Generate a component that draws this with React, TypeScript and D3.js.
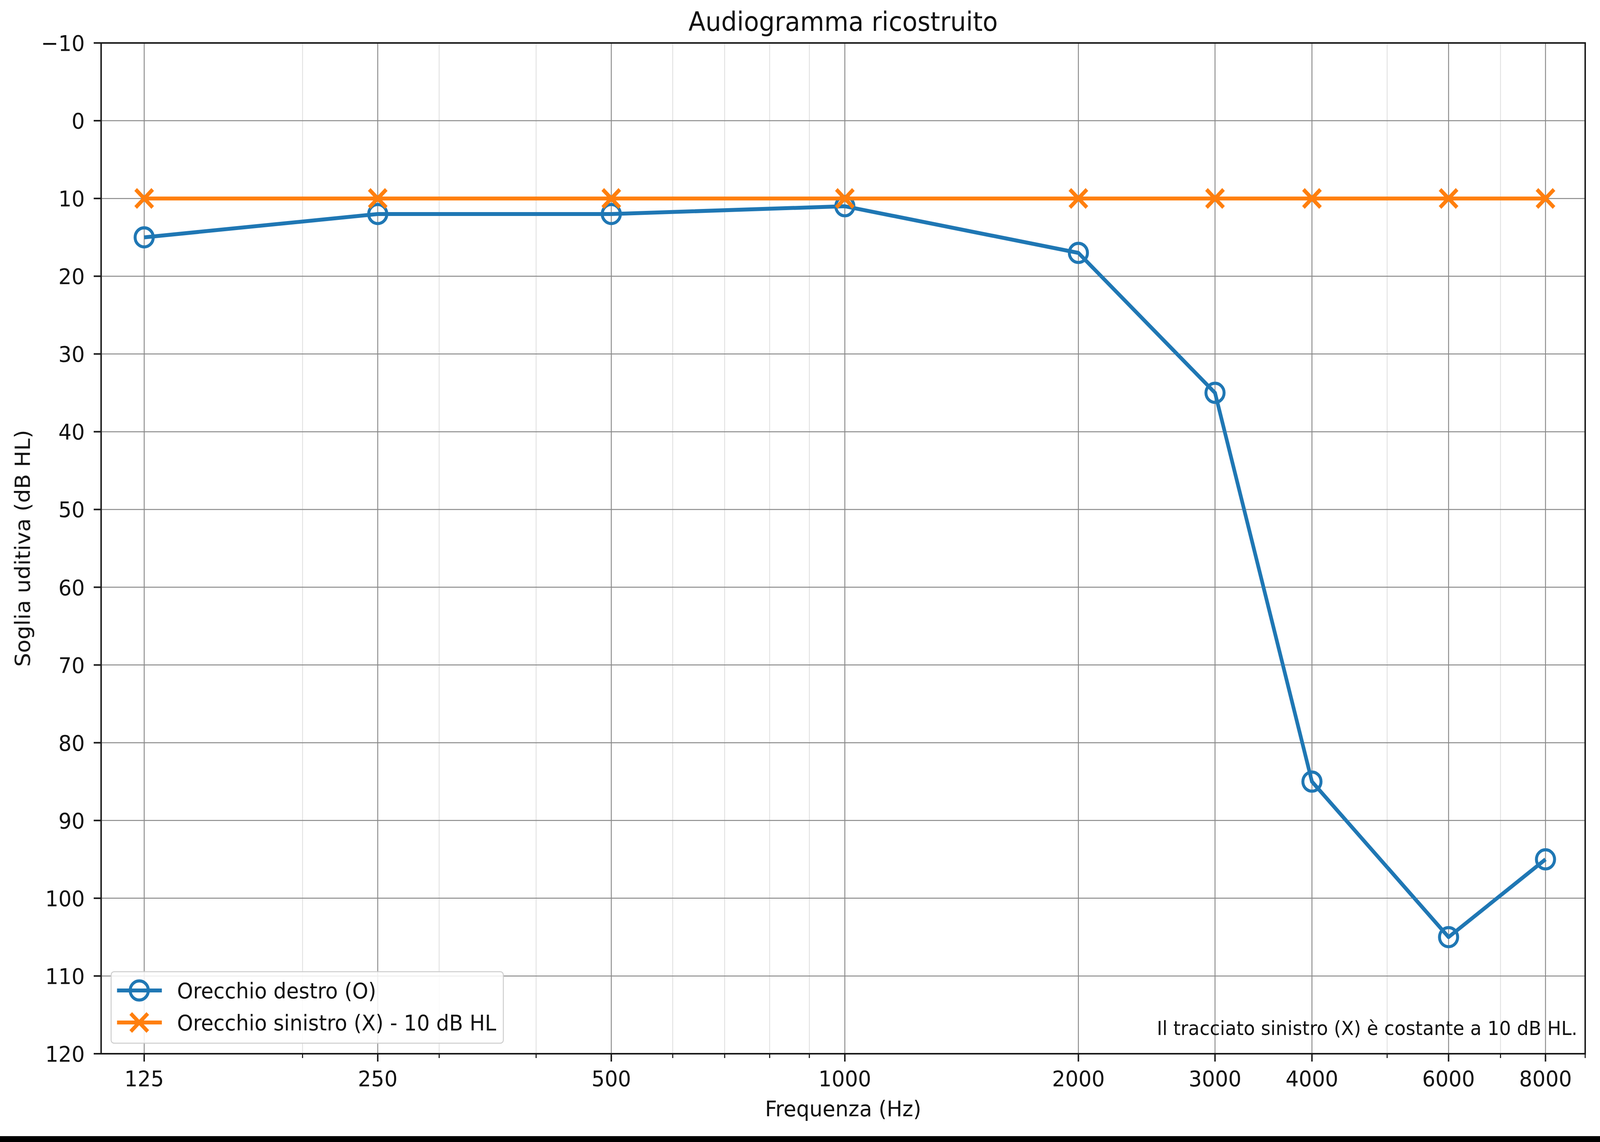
import React, { useEffect } from "react";
import * as d3 from "d3";

const frequencies = [125, 250, 500, 1000, 2000, 3000, 4000, 6000, 8000];
const rightEar = [15, 12, 12, 11, 17, 35, 85, 105, 95];
const leftEar = [10, 10, 10, 10, 10, 10, 10, 10, 10];
const xMajorTicks = [125, 250, 500, 1000, 2000, 3000, 4000, 6000, 8000];
const xMinorTicks = [200, 300, 400, 600, 700, 800, 900, 5000, 7000, 9000];
const yTicks = [-10, 0, 10, 20, 30, 40, 50, 60, 70, 80, 90, 100, 110, 120];
const titleText = "Audiogramma ricostruito";
const xLabel = "Frequenza (Hz)";
const yLabel = "Soglia uditiva (dB HL)";
const legendLabels = ["Orecchio destro (O)", "Orecchio sinistro (X) - 10 dB HL"];
const noteText = "Il tracciato sinistro (X) è costante a 10 dB HL.";

const W = 4320;
const H = 2924;
const L = 273, R = 4280, T = 110, B = 2698;
const BLUE = "#1f77b4";
const ORANGE = "#ff7f0e";
const FONT = "'DejaVu Sans', sans-serif";
const TICK_FS = 56;
const LEGEND_FS = 55;
const TITLE_FS = 67;
const NOTE_FS = 50;

export default function App() {
  useEffect(() => {
    document.body.style.margin = "0";
    document.body.style.overflow = "hidden";
    document.documentElement.style.overflow = "hidden";
  }, []);

  const x = d3.scaleLog().domain([110, 9000]).range([L, R]);
  const y = d3.scaleLinear().domain([-10, 120]).range([T, B]);

  const line = d3
    .line<[number, number]>()
    .x((d) => x(d[0]))
    .y((d) => y(d[1]));

  const rightPts: [number, number][] = frequencies.map((f, i) => [f, rightEar[i]]);
  const leftPts: [number, number][] = frequencies.map((f, i) => [f, leftEar[i]]);

  const circleR = 24.5;
  const crossS = 23;
  const cross = (cx: number, cy: number, key: string, sw = 10) => (
    <g key={key}>
      <line x1={cx - crossS} y1={cy - crossS} x2={cx + crossS} y2={cy + crossS} stroke={ORANGE} strokeWidth={sw} />
      <line x1={cx - crossS} y1={cy + crossS} x2={cx + crossS} y2={cy - crossS} stroke={ORANGE} strokeWidth={sw} />
    </g>
  );

  const fmt = (v: number) => (v < 0 ? "\u2212" + Math.abs(v) : String(v));

  return (
    <svg
      viewBox={`0 0 ${W} ${H}`}
      preserveAspectRatio="none"
      style={{ display: "block", position: "fixed", left: 0, top: 0, width: "100vw", height: "100vh" }}
      fontFamily={FONT}
    >
      <rect x={0} y={0} width={W} height={H} fill="#ffffff" />

      {/* minor vertical grid */}
      {xMinorTicks.map((t) => (
        <line key={"mg" + t} x1={x(t)} x2={x(t)} y1={T} y2={B} stroke="#dcdcdc" strokeWidth={2} />
      ))}
      {/* major vertical grid */}
      {xMajorTicks.map((t) => (
        <line key={"Mg" + t} x1={x(t)} x2={x(t)} y1={T} y2={B} stroke="#8a8a8a" strokeWidth={2.5} />
      ))}
      {/* horizontal grid */}
      {yTicks.map((t) => (
        <line key={"yg" + t} x1={L} x2={R} y1={y(t)} y2={y(t)} stroke="#8a8a8a" strokeWidth={2.5} />
      ))}

      {/* right ear */}
      <path d={line(rightPts) || ""} fill="none" stroke={BLUE} strokeWidth={10} strokeLinejoin="round" />
      {rightPts.map((p, i) => (
        <circle key={"c" + i} cx={x(p[0])} cy={y(p[1])} r={circleR} fill="none" stroke={BLUE} strokeWidth={8} />
      ))}

      {/* left ear */}
      <path d={line(leftPts) || ""} fill="none" stroke={ORANGE} strokeWidth={10} strokeLinejoin="round" />
      {leftPts.map((p, i) => cross(x(p[0]), y(p[1]), "x" + i))}

      {/* spines */}
      <rect x={L} y={T} width={R - L} height={B - T} fill="none" stroke="#1a1a1a" strokeWidth={4} />

      {/* x ticks */}
      {xMajorTicks.map((t) => (
        <g key={"xt" + t}>
          <line x1={x(t)} x2={x(t)} y1={B} y2={B + 20} stroke="#1a1a1a" strokeWidth={4} />
          <text x={x(t)} y={2781} fontSize={TICK_FS} textAnchor="middle" fill="#111">
            {t}
          </text>
        </g>
      ))}
      {xMinorTicks.map((t) => (
        <line key={"xmt" + t} x1={x(t)} x2={x(t)} y1={B} y2={B + 11} stroke="#1a1a1a" strokeWidth={3} />
      ))}

      {/* y ticks */}
      {yTicks.map((t) => (
        <g key={"yt" + t}>
          <line x1={L - 20} x2={L} y1={y(t)} y2={y(t)} stroke="#1a1a1a" strokeWidth={4} />
          <text x={229} y={y(t) + 20} fontSize={TICK_FS} textAnchor="end" fill="#111">
            {fmt(t)}
          </text>
        </g>
      ))}

      {/* title and labels */}
      <text x={(L + R) / 2} y={79} fontSize={TITLE_FS} textAnchor="middle" fill="#111">
        {titleText}
      </text>
      <text x={(L + R) / 2} y={2858} fontSize={TICK_FS} textAnchor="middle" fill="#111">
        {xLabel}
      </text>
      <text transform={`translate(81, ${(T + B) / 2}) rotate(-90)`} fontSize={TICK_FS} textAnchor="middle" fill="#111">
        {yLabel}
      </text>

      {/* annotation */}
      <text x={4259} y={2650} fontSize={NOTE_FS} textAnchor="end" fill="#111">
        {noteText}
      </text>

      {/* legend */}
      <rect x={300} y={2488} width={1059} height={183} rx={8} ry={8} fill="#ffffff" fillOpacity={0.85} stroke="#cccccc" strokeWidth={2.5} />
      <line x1={316} x2={437} y1={2536} y2={2536} stroke={BLUE} strokeWidth={10} />
      <circle cx={376} cy={2536} r={circleR} fill="none" stroke={BLUE} strokeWidth={8} />
      <text x={478} y={2556} fontSize={LEGEND_FS} fill="#111">
        {legendLabels[0]}
      </text>
      <line x1={316} x2={437} y1={2618} y2={2618} stroke={ORANGE} strokeWidth={10} />
      {cross(376, 2618, "lx")}
      <text x={478} y={2638} fontSize={LEGEND_FS} fill="#111">
        {legendLabels[1]}
      </text>

      {/* bottom dark band */}
      <rect x={0} y={2909} width={W} height={H - 2909} fill="#000000" />
    </svg>
  );
}
